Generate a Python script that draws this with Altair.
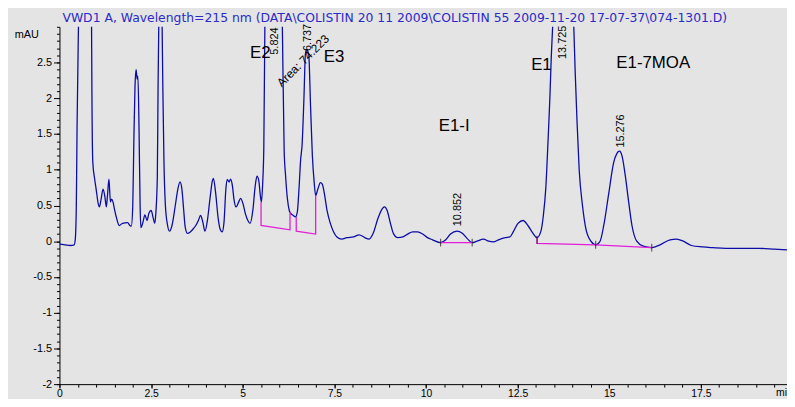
import altair as alt
import pandas as pd

# ---------------- data ----------------
trace_t = [0.00, 0.15, 0.30, 0.40, 0.43, 0.46, 0.48, 0.52, 0.56, 0.84, 0.875, 0.885, 0.91, 0.96, 1.00,
           1.06, 1.09, 1.13, 1.19, 1.24, 1.28, 1.31, 1.35, 1.39, 1.42, 1.46, 1.50, 1.56, 1.63, 1.72,
           1.86, 1.92, 1.96, 2.00, 2.03, 2.06, 2.09, 2.12, 2.14, 2.17, 2.20, 2.22, 2.28, 2.33, 2.39,
           2.44, 2.50, 2.56, 2.60, 2.63, 2.67, 2.69, 2.71, 2.74, 2.78, 2.80, 2.82, 2.85, 2.89, 2.95,
           3.00, 3.07, 3.16, 3.23, 3.29, 3.34, 3.39, 3.43, 3.49, 3.57, 3.66, 3.72, 3.79, 3.85, 3.91,
           3.97, 4.03, 4.11, 4.17, 4.20, 4.26, 4.33, 4.39, 4.44, 4.49, 4.54, 4.58, 4.63, 4.67, 4.72,
           4.76, 4.82, 4.89, 4.94, 5.01, 5.07, 5.14, 5.20, 5.28, 5.34, 5.39, 5.44, 5.48, 5.51, 5.545,
           5.575, 5.605, 5.70, 5.82, 5.95, 6.08, 6.13, 6.17, 6.22, 6.27, 6.31, 6.38, 6.44, 6.49, 6.535,
           6.58, 6.62, 6.67, 6.71, 6.74, 6.80, 6.85, 6.90, 6.95, 6.99, 7.05, 7.12, 7.17, 7.23, 7.30,
           7.39, 7.48, 7.57, 7.70, 7.84, 8.02, 8.18, 8.33, 8.45, 8.56, 8.69, 8.80, 8.87, 8.94, 9.03,
           9.11, 9.23, 9.37, 9.50, 9.64, 9.77, 9.91, 10.04, 10.18, 10.40, 10.54, 10.67, 10.85, 10.99, 11.12,
           11.26, 11.39, 11.57, 11.71, 11.84, 11.98, 12.16, 12.29, 12.38, 12.51, 12.65, 12.78, 12.92, 13.03, 13.13,
           13.20, 13.27, 13.33, 13.38, 13.42, 13.46, 13.55, 13.72, 13.90, 14.03, 14.07, 14.12, 14.18, 14.27, 14.36,
           14.50, 14.63, 14.75, 14.85, 14.99, 15.12, 15.21, 15.28, 15.35, 15.44, 15.53, 15.62, 15.75, 15.93, 16.16,
           16.39, 16.66, 16.84, 17.02, 17.24, 17.55, 17.82, 18.18, 18.63, 19.08, 19.50, 19.85]
trace_v = [-0.04, -0.05, -0.06, -0.05, 0.02, 0.50, 1.60, 3.05, 4.20, 4.20, 3.05, 2.10, 1.10, 0.87, 0.73,
           0.52, 0.48, 0.57, 0.73, 0.62, 0.48, 0.64, 0.87, 0.55, 0.59, 0.55, 0.45, 0.32, 0.22, 0.25,
           0.26, 0.22, 0.21, 0.50, 1.42, 2.15, 2.40, 2.27, 2.31, 1.60, 0.50, 0.19, 0.27, 0.37, 0.29,
           0.39, 0.43, 0.32, 0.25, 0.40, 0.91, 2.16, 3.05, 4.00, 4.00, 3.05, 2.16, 1.14, 0.50, 0.22,
           0.14, 0.22, 0.50, 0.73, 0.83, 0.73, 0.43, 0.20, 0.11, 0.13, 0.18, 0.22, 0.29, 0.36, 0.27,
           0.14, 0.27, 0.61, 0.84, 0.88, 0.68, 0.32, 0.16, 0.13, 0.27, 0.73, 0.86, 0.83, 0.87, 0.77,
           0.59, 0.48, 0.55, 0.60, 0.52, 0.39, 0.29, 0.25, 0.45, 0.77, 0.91, 0.84, 0.64, 0.55, 0.82,
           1.30, 3.05, 5.00, 6.00, 5.00, 3.05, 1.28, 0.91, 0.59, 0.43, 0.39, 0.36, 0.34, 0.41, 0.73,
           1.14, 1.35, 2.00, 2.62, 2.68, 2.62, 1.90, 1.20, 0.82, 0.64, 0.73, 0.82, 0.80, 0.66, 0.43,
           0.25, 0.13, 0.06, 0.03, 0.05, 0.06, 0.09, 0.05, 0.03, 0.11, 0.32, 0.45, 0.48, 0.43, 0.25,
           0.11, 0.05, 0.06, 0.10, 0.13, 0.13, 0.10, 0.05, 0.02, -0.02, 0.02, 0.10, 0.14, 0.11, 0.04,
           -0.02, 0.00, 0.03, 0.00, -0.01, 0.02, 0.05, 0.06, 0.13, 0.25, 0.29, 0.22, 0.11, 0.05, 0.13,
           0.35, 0.75, 1.40, 2.00, 2.60, 3.05, 4.50, 5.50, 4.50, 3.05, 2.38, 1.69, 1.00, 0.50, 0.18,
           0.00, -0.05, 0.00, 0.22, 0.68, 1.10, 1.23, 1.26, 1.19, 0.91, 0.55, 0.22, 0.00, -0.07, -0.09,
           -0.05, 0.02, 0.03, 0.00, -0.06, -0.08, -0.09, -0.10, -0.10, -0.10, -0.11, -0.12]

# integration baselines (drop lines)
base_group = ["E2"] * 4 + ["E3"] * 4 + ["E1-I"] * 2 + ["E1"] * 4
base_t = [5.50, 5.50, 6.29, 6.29, 6.46, 6.46, 6.99, 6.99, 10.40, 11.26, 13.03, 13.03, 14.63, 16.16]
base_v = [0.55, 0.22, 0.16, 0.41, 0.34, 0.14, 0.10, 0.64, -0.02, -0.02, 0.05, -0.03, -0.05, -0.09]

# peak-boundary tick marks
tick_t = [10.40, 11.26, 13.03, 14.63, 16.16]
tick_v = [-0.02, -0.02, 0.02, -0.05, -0.09]

# compound names
peak_names = ["E2", "E3", "E1-I", "E1", "E1-7MOA"]
peak_name_t = [5.48, 7.49, 10.77, 13.15, 16.20]
peak_name_v = [2.63, 2.58, 1.61, 2.46, 2.49]

# retention-time labels
rt_labels = ["5.824", "6.737", "10.852", "13.725", "15.276"]
rt_t = [5.88, 6.78, 10.88, 13.74, 15.33]
rt_v = [2.61, 2.66, 0.21, 2.55, 1.31]

area_labels = ["Area: 74.223"]
area_t = [5.99]
area_v = [2.19]

y_major = [-2, -1.5, -1, -0.5, 0, 0.5, 1, 1.5, 2, 2.5]
y_minor = [-2.0, -1.9, -1.8, -1.7, -1.6, -1.5, -1.4, -1.3, -1.2, -1.1, -1.0, -0.9, -0.8, -0.7, -0.6,
           -0.5, -0.4, -0.3, -0.2, -0.1, 0.0, 0.1, 0.2, 0.3, 0.4, 0.5, 0.6, 0.7, 0.8, 0.9, 1.0,
           1.1, 1.2, 1.3, 1.4, 1.5, 1.6, 1.7, 1.8, 1.9, 2.0, 2.1, 2.2, 2.3, 2.4, 2.5, 2.6, 2.7, 2.8, 2.9, 3.0]
x_major = [0, 2.5, 5, 7.5, 10, 12.5, 15, 17.5]
x_minor = [0, 0.5, 1, 1.5, 2, 2.5, 3, 3.5, 4, 4.5, 5, 5.5, 6, 6.5, 7, 7.5, 8, 8.5, 9, 9.5, 10,
           10.5, 11, 11.5, 12, 12.5, 13, 13.5, 14, 14.5, 15, 15.5, 16, 16.5, 17, 17.5, 18, 18.5, 19, 19.5]

title_text = r"VWD1 A, Wavelength=215 nm (DATA\COLISTIN 20 11 2009\COLISTIN 55 2009-11-20 17-07-37\074-1301.D)"

# ---------------- chart ----------------
X_DOM = [0, 19.85]
Y_DOM = [-2, 3]
FONT = "Liberation Sans"
LINE = "#0c0ca8"
MAG = "#e020d8"

def xenc(field="t", axis=None):
    return alt.X(f"{field}:Q", scale=alt.Scale(domain=X_DOM, nice=False, zero=False), axis=axis)

def yenc(field="v", axis=None):
    return alt.Y(f"{field}:Q", scale=alt.Scale(domain=Y_DOM, nice=False, zero=False), axis=axis)

trace_df = pd.DataFrame({"t": trace_t, "v": trace_v})
base_df = pd.DataFrame({"t": base_t, "v": base_v, "g": base_group, "i": list(range(len(base_t)))})
tick_df = pd.DataFrame({"t": tick_t, "v": tick_v})
name_df = pd.DataFrame({"t": peak_name_t, "v": peak_name_v, "label": peak_names})
rt_df = pd.DataFrame({"t": rt_t, "v": rt_v, "label": rt_labels})
area_df = pd.DataFrame({"t": area_t, "v": area_v, "label": area_labels})

common_axis = dict(title=None, grid=False, domainColor="black", tickColor="black",
                   labelColor="black", labelFont=FONT, labelExpr="toString(datum.value)")

x_axis_main = alt.Axis(values=x_major, tickSize=4, labelPadding=0, orient="bottom",
                       labelFontSize=10.5, labelFlush=False, **common_axis)
y_axis_main = alt.Axis(values=y_major, tickSize=6, labelPadding=2, orient="left",
                       labelFontSize=11, **common_axis)

trace = alt.Chart(trace_df).mark_line(clip=True, color=LINE, strokeWidth=1.3,
                                      interpolate="monotone").encode(
    x=xenc(axis=x_axis_main), y=yenc(axis=y_axis_main))

minor = alt.Chart(pd.DataFrame({"t": [0], "v": [0]})).mark_point(opacity=0).encode(
    x=xenc(axis=alt.Axis(values=x_minor, tickSize=3, labels=False, domain=False, grid=False,
                         title=None, tickColor="black", orient="bottom")),
    y=yenc(axis=alt.Axis(values=y_minor, tickSize=3, labels=False, domain=False, grid=False,
                         title=None, tickColor="black", orient="left")))

base = alt.Chart(base_df).mark_line(color=MAG, strokeWidth=1.3, clip=True).encode(
    x=xenc(), y=yenc(), detail="g:N", order="i:Q")

ticks = alt.Chart(tick_df).mark_tick(orient="vertical", size=8, thickness=1, color="black").encode(
    x=xenc(), y=yenc())

names = alt.Chart(name_df).mark_text(font=FONT, fontSize=17, color="black", align="center",
                                     baseline="middle").encode(
    x=xenc(), y=yenc(), text="label:N")

rts = alt.Chart(rt_df).mark_text(font=FONT, fontSize=11, color="black", angle=270, align="left",
                                 baseline="middle").encode(
    x=xenc(), y=yenc(), text="label:N")

area = alt.Chart(area_df).mark_text(font=FONT, fontSize=12, color="black", angle=315, align="left",
                                    baseline="middle").encode(
    x=xenc(), y=yenc(), text="label:N")

title = alt.Chart(pd.DataFrame({"label": [title_text]})).mark_text(
    font="DejaVu Sans", fontSize=12.5, color="#2b2bc8", align="left", baseline="middle").encode(
    x=alt.value(3), y=alt.value(-9), text="label:N")

mau = alt.Chart(pd.DataFrame({"label": ["mAU"]})).mark_text(
    font=FONT, fontSize=11, color="black", align="center", baseline="middle").encode(
    x=alt.value(-33), y=alt.value(8), text="label:N")

mi = alt.Chart(pd.DataFrame({"label": ["mi"]})).mark_text(
    font=FONT, fontSize=10.5, color="black", align="left", baseline="top").encode(
    x=alt.value(724), y=alt.value(365), text="label:N")

chart = alt.layer(trace, minor, base, ticks, names, rts, area, title, mau, mi).resolve_scale(
    x="independent", y="independent"
).properties(
    width=735, height=361,
    padding={"left": 52, "top": 17, "right": 0, "bottom": 13},
    autosize=alt.AutoSizeParams(type="none"),
).configure(background="#e4e4e4").configure_view(stroke=None)

chart.save("out.html", embed_options={"renderer": "svg", "actions": False})
